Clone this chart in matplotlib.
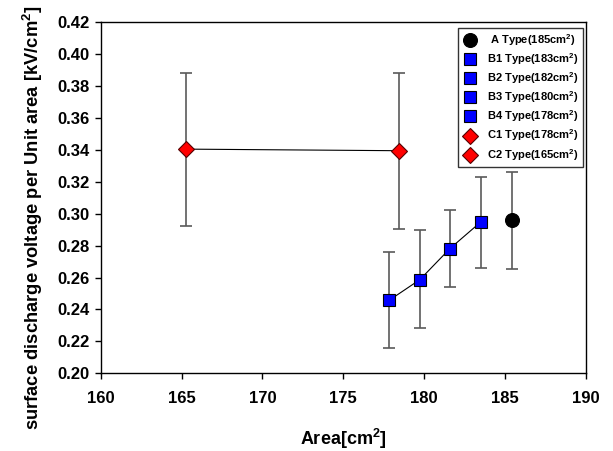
import matplotlib
matplotlib.use("Agg")
import matplotlib.pyplot as plt

plt.rcParams['font.family'] = ['Liberation Sans', 'DejaVu Sans']
plt.rcParams['font.weight'] = 'bold'
plt.rcParams['mathtext.fontset'] = 'custom'
plt.rcParams['mathtext.rm'] = 'Liberation Sans:bold'
plt.rcParams['mathtext.bf'] = 'Liberation Sans:bold'
plt.rcParams['mathtext.default'] = 'bf'

# Data
labels = [' A Type(185cm$^2$)', 'B1 Type(183cm$^2$)', 'B2 Type(182cm$^2$)',
          'B3 Type(180cm$^2$)', 'B4 Type(178cm$^2$)', 'C1 Type(178cm$^2$)',
          'C2 Type(165cm$^2$)']
area = [185.40, 183.50, 181.59, 179.73, 177.84, 178.45, 165.25]
voltage = [0.2959, 0.2949, 0.2782, 0.2587, 0.2458, 0.3395, 0.3405]
err_hi = [0.3262, 0.3229, 0.3024, 0.2895, 0.2760, 0.3885, 0.3885]
err_lo = [0.2654, 0.2660, 0.2541, 0.2282, 0.2159, 0.2905, 0.2925]
colors = ['black', 'blue', 'blue', 'blue', 'blue', 'red', 'red']
markers = ['o', 's', 's', 's', 's', 'D', 'D']
sizes = [10, 9, 9, 9, 9, 8.5, 8.5]
b_idx = [4, 3, 2, 1]
c_idx = [6, 5]
xticks = [160, 165, 170, 175, 180, 185, 190]
yticks = [0.20, 0.22, 0.24, 0.26, 0.28, 0.30, 0.32, 0.34, 0.36, 0.38, 0.40, 0.42]

fig = plt.figure(figsize=(6.13, 4.51), dpi=100)
ax = fig.add_axes([0.1643, 0.1723, 0.7917, 0.7783])

# connecting lines
ax.plot([area[i] for i in b_idx], [voltage[i] for i in b_idx], color='black', lw=0.8, zorder=2)
ax.plot([area[i] for i in c_idx], [voltage[i] for i in c_idx], color='black', lw=0.8, zorder=2)

for i in range(len(labels)):
    lo = voltage[i] - err_lo[i]
    hi = err_hi[i] - voltage[i]
    ax.errorbar([area[i]], [voltage[i]], yerr=[[lo], [hi]], fmt='none',
                ecolor='#5a5a5a', elinewidth=1.2, capsize=4, capthick=1.2, zorder=1)
    ax.plot([area[i]], [voltage[i]], linestyle='none', marker=markers[i],
            markersize=sizes[i], markerfacecolor=colors[i],
            markeredgecolor='black' if colors[i] != 'red' else '#550000',
            markeredgewidth=0.8, label=labels[i], zorder=3)

ax.set_xlim(160, 190)
ax.set_ylim(0.20, 0.42)
ax.set_xticks(xticks)
ax.set_yticks(yticks)
ax.set_yticklabels([f'{v:.2f}' for v in yticks])
ax.tick_params(axis='both', direction='out', length=4, width=1, labelsize=12)
ax.tick_params(axis='x', pad=9)
ax.tick_params(axis='y', pad=4)
for lab in ax.get_xticklabels() + ax.get_yticklabels():
    lab.set_fontweight('bold')
for s in ax.spines.values():
    s.set_linewidth(1.0)

ax.set_xlabel('Area[cm$^2$]', fontsize=13, fontweight='bold')
ax.xaxis.set_label_coords(0.5, -0.152)
ax.set_ylabel('surface discharge voltage per Unit area [kV/cm$^2$]', fontsize=13.2,
              fontweight='bold')
ax.yaxis.set_label_coords(-0.115, 0.444)

leg = ax.legend(loc='upper right', bbox_to_anchor=(0.993, 0.985), borderaxespad=0,
                prop={'size': 8, 'weight': 'bold'}, frameon=True, fancybox=False,
                edgecolor='black', labelspacing=0.3, handletextpad=0.8,
                borderpad=0.4, handlelength=1.4)
leg.get_frame().set_linewidth(1.0)

fig.savefig('out.png', dpi=100)
